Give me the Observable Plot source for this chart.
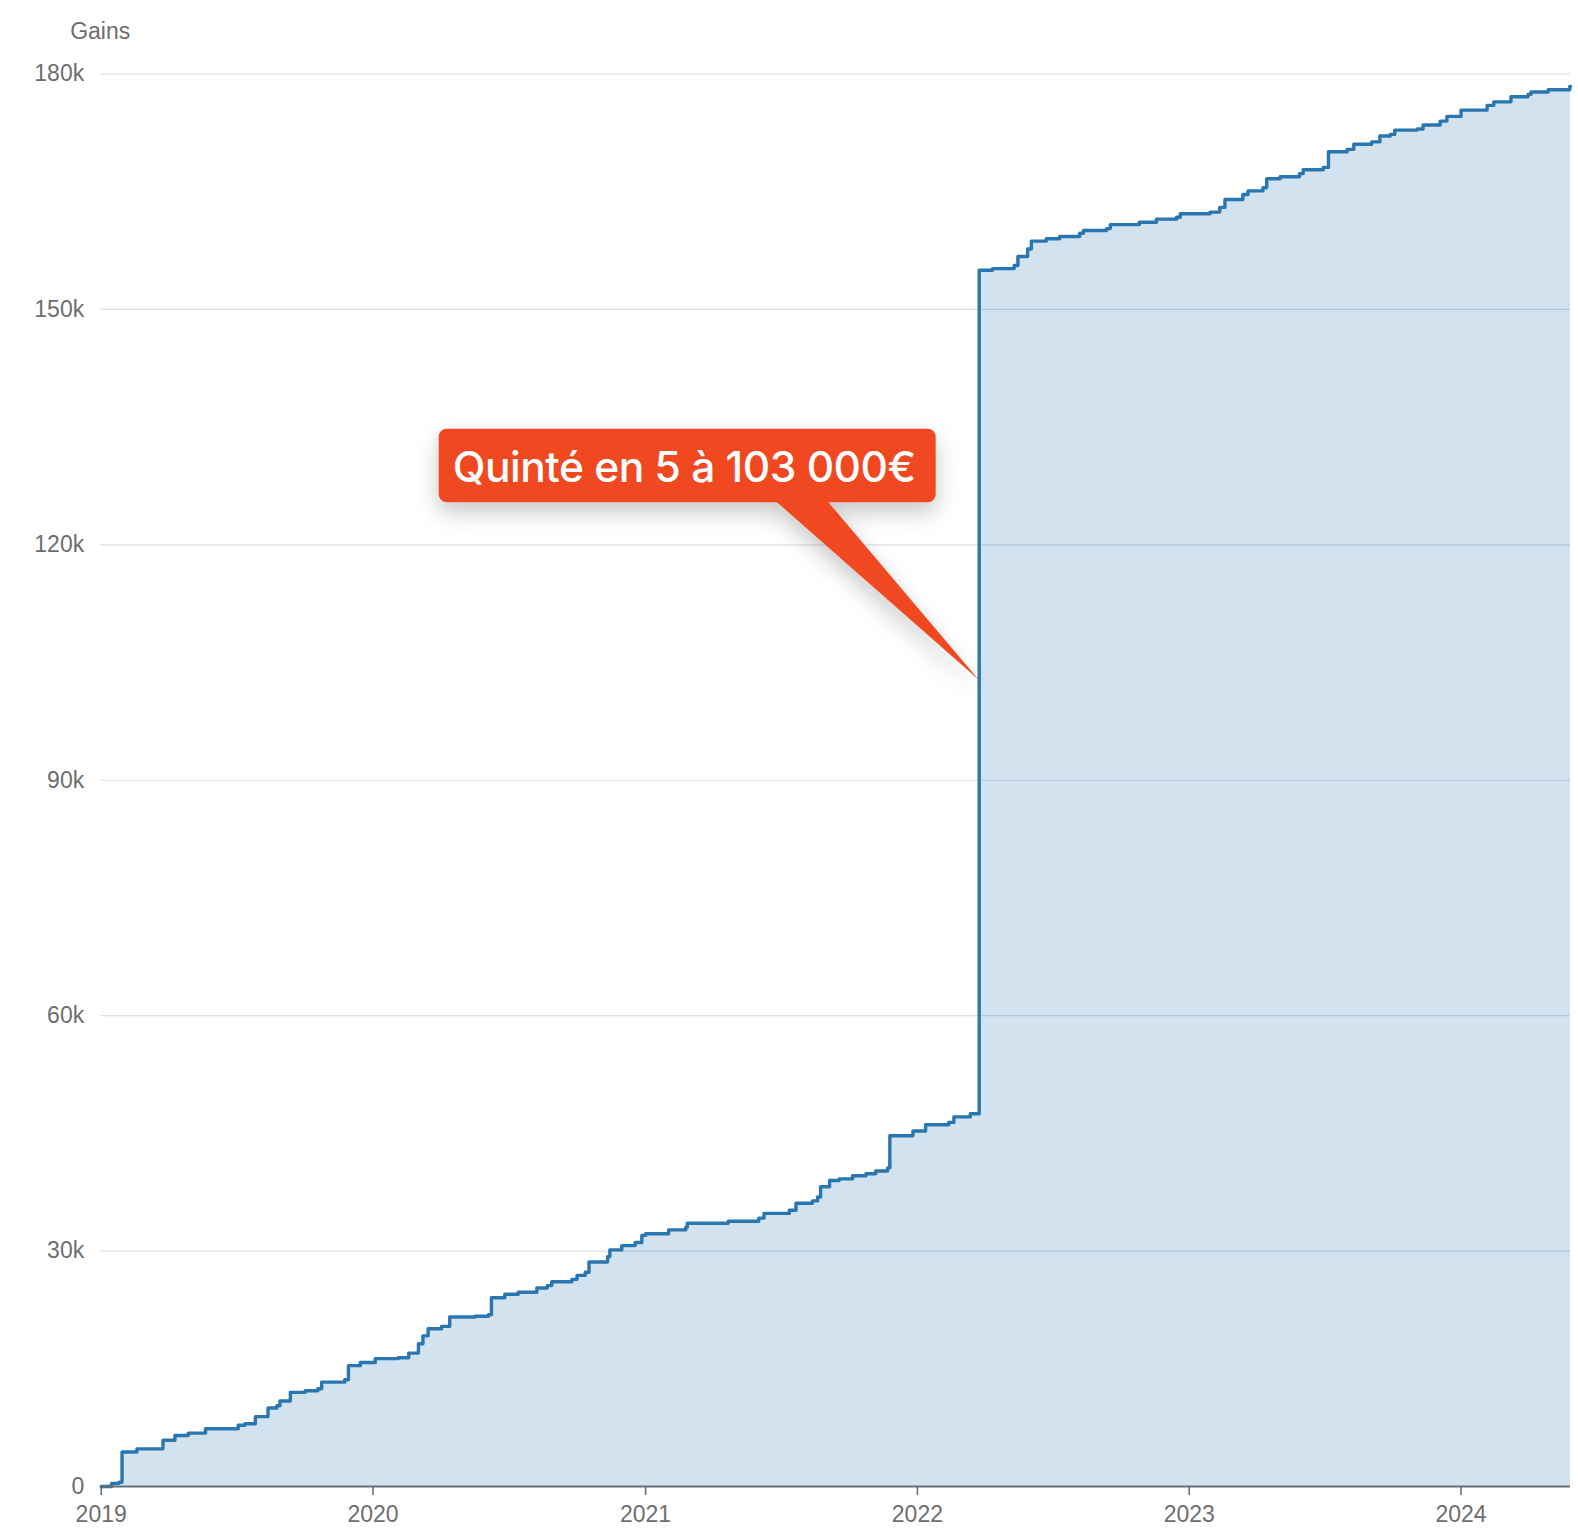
<!DOCTYPE html>
<html>
<head>
<meta charset="utf-8">
<script src="https://cdn.jsdelivr.net/npm/d3@7"></script>
<script src="https://cdn.jsdelivr.net/npm/@observablehq/plot@0.6"></script>
<style>
html, body { margin: 0; padding: 0; background: #fff; }
#chart svg { display: block; }
</style>
</head>
<body>
<div id="chart"></div>
<script>
// ---- Data ----
const dates = [
  "2019-01-01","2019-01-15","2019-01-25","2019-01-29","2019-02-18","2019-03-25","2019-04-10","2019-04-28",
  "2019-05-21","2019-07-04","2019-07-13","2019-07-27","2019-08-13","2019-08-25","2019-08-29","2019-09-12",
  "2019-10-02","2019-10-19","2019-10-24","2019-11-24","2019-11-29","2019-12-15",
  "2020-01-04","2020-02-04","2020-02-18","2020-03-02","2020-03-08","2020-03-15","2020-04-02","2020-04-13",
  "2020-05-17","2020-06-04","2020-06-08","2020-06-26","2020-07-14","2020-08-08","2020-08-22","2020-08-28",
  "2020-09-24","2020-10-01","2020-10-12","2020-10-17","2020-11-11","2020-11-14","2020-11-30","2020-12-18",
  "2020-12-27",
  "2021-01-01","2021-02-01","2021-02-24","2021-02-26","2021-04-22","2021-06-02","2021-06-09","2021-07-13",
  "2021-07-22","2021-08-13","2021-08-20","2021-08-24","2021-09-05","2021-09-18","2021-10-06","2021-10-24",
  "2021-11-06","2021-11-22","2021-11-25","2021-12-26",
  "2022-01-12","2022-02-12","2022-02-19","2022-03-13","2022-03-25","2022-04-12","2022-05-11","2022-05-16",
  "2022-05-29","2022-06-03","2022-06-23","2022-07-11","2022-08-07","2022-08-12","2022-09-12","2022-09-17",
  "2022-10-26","2022-11-18","2022-12-15","2022-12-20",
  "2023-01-29","2023-02-11","2023-02-18","2023-03-14","2023-03-21","2023-04-10","2023-04-15","2023-05-03",
  "2023-05-29","2023-06-03","2023-06-30","2023-07-07","2023-08-01","2023-08-10","2023-09-03","2023-09-14",
  "2023-09-28","2023-10-04","2023-11-03","2023-11-11","2023-12-04","2023-12-13",
  "2024-01-01","2024-02-05","2024-02-14","2024-03-08","2024-03-31","2024-04-04","2024-04-27","2024-05-26",
  "2024-05-27"
];
const gains = [
  0,400,550,4400,4800,5900,6500,6800,
  7350,7800,8000,8900,10000,10300,10900,12000,
  12200,12450,13300,13600,15400,15800,
  16300,16400,17000,18200,19200,20100,20400,21600,
  21700,21900,24050,24500,24750,25300,25600,26100,
  26400,26900,27300,28600,29300,30150,30700,31100,
  32000,
  32200,32700,33050,33550,33800,34200,34800,35200,
  36100,36400,36900,38200,39000,39200,39600,39850,
  40200,40600,44700,45300,
  46100,46400,47100,47500,155000,155200,155600,156750,
  157700,158700,159000,159300,159700,160050,160300,160800,
  161100,161500,161750,162200,
  162400,163000,164000,164650,165100,165500,166650,166900,
  167300,167800,168100,170100,170400,171050,171350,172100,
  172300,172850,173000,173500,174000,174600,
  175400,176000,176450,177100,177400,177700,178000,178400,
  178400
];
const yTicks = [0, 30000, 60000, 90000, 120000, 150000, 180000];
const xTicks = ["2019-01-01","2020-01-01","2021-01-01","2022-01-01","2023-01-01","2024-01-01"];
const xDomain = ["2019-01-01", "2024-05-27"];
const yDomain = [0, 180000];
const yLabel = "Gains";
const annotationText = "Quinté en 5 à 103 000€";
const annotationDate = "2022-03-25";
const annotationValue = 103000;

// ---- Build table ----
const data = dates.map((d, i) => ({date: new Date(d), gain: gains[i]}));

// ---- Callout mark (positioned through Plot's scales) ----
function callout(index, scales) {
  const px = scales.x(new Date(annotationDate));
  const py = scales.y(annotationValue);
  const g = d3.create("svg:g");
  const defs = g.append("defs");
  const f = defs.append("filter").attr("id", "callout-shadow")
    .attr("x", "-20%").attr("y", "-40%").attr("width", "140%").attr("height", "200%");
  f.append("feDropShadow").attr("dx", 0).attr("dy", 10).attr("stdDeviation", 11)
    .attr("flood-color", "#000").attr("flood-opacity", 0.22);
  const shape = g.append("g").attr("filter", "url(#callout-shadow)").attr("fill", "#f04923");
  const left = px - 540, right = px - 43, top = py - 249, bottom = py - 175.5;
  shape.append("rect")
    .attr("x", left).attr("y", top)
    .attr("width", right - left).attr("height", bottom - top)
    .attr("rx", 8).attr("ry", 8);
  shape.append("path")
    .attr("d", `M${px - 204},${bottom - 2} L${px - 152},${bottom - 2} L${px},${py + 2} Z`);
  g.append("text")
    .attr("x", (left + right) / 2 - 3)
    .attr("y", (top + bottom) / 2 + 1)
    .attr("text-anchor", "middle")
    .attr("dominant-baseline", "central")
    .attr("fill", "#fff")
    .attr("font-family", "Inter, 'Open Sans', sans-serif")
    .attr("font-weight", 500)
    .attr("font-size", 42.5)
    .attr("letter-spacing", "-0.5")
    .text(annotationText);
  return g.node();
}

const textColor = "#6e6e6e";

const chart = Plot.plot({
  width: 1578,
  height: 1534,
  marginLeft: 100.7,
  marginRight: 8,
  marginTop: 73.5,
  marginBottom: 48,
  style: {
    fontFamily: "'Liberation Sans', Arial, Helvetica, sans-serif",
    fontSize: "23px",
    background: "#fff",
    overflow: "visible"
  },
  x: {type: "utc", domain: xDomain.map(d => new Date(d))},
  y: {domain: yDomain},
  marks: [
    Plot.gridY(yTicks, {stroke: "#dadee2", strokeOpacity: 1, strokeWidth: 1.2}),
    Plot.areaY(data, {x: "date", y: "gain", curve: "step-after", fill: "#2a78b3", fillOpacity: 0.21}),
    Plot.lineY(data, {x: "date", y: "gain", curve: "step-after", stroke: "#2a76b0", strokeWidth: 3.4, strokeLinejoin: "round", strokeLinecap: "round"}),
    Plot.ruleY([0], {stroke: "#66707a", strokeWidth: 2}),
    Plot.axisY(yTicks, {
      tickSize: 0, tickPadding: 17, color: textColor, label: null,
      tickFormat: d => d === 0 ? "0" : `${d / 1000}k`
    }),
    Plot.axisX(xTicks.map(d => new Date(d)), {
      tickSize: 9, tickPadding: 10, stroke: "#66707a", strokeWidth: 1.6, fill: textColor, label: null,
      tickFormat: d3.utcFormat("%Y")
    }),
    Plot.text([yLabel], {frameAnchor: "top-left", dx: -1, dy: -51, textAnchor: "middle", fill: textColor}),
    callout
  ]
});

document.getElementById("chart").appendChild(chart);
</script>
</body>
</html>
